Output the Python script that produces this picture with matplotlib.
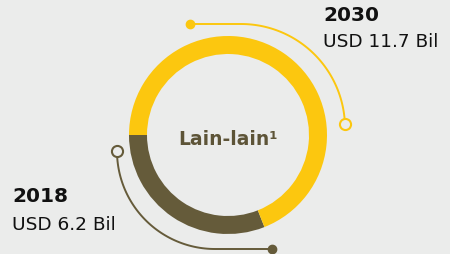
import numpy as np
import matplotlib
matplotlib.use("Agg")
import matplotlib.pyplot as plt

# data
years = ["2018", "2030"]
values_bil = [6.2, 11.7]
ring_share = [31, 69]          # share of the ring as drawn (2018 dark, 2030 yellow)
ring_colors = ["#655b3a", "#fcc70f"]
center_label = "Lain-lain¹"

BG = "#ebeceb"
cx, cy, R = 228, 119, 99

fig = plt.figure(figsize=(4.5, 2.55), dpi=100, facecolor=BG)
ax = fig.add_axes([0, 0, 1, 1])
ax.set_facecolor(BG)

ax.pie(ring_share, colors=ring_colors, startangle=180, counterclock=True,
       center=(cx, cy), radius=R, wedgeprops=dict(width=18, linewidth=0))

ax.text(cx, 110, center_label, ha="center", va="baseline",
        fontsize=13.5, fontweight="bold", color="#5d5437")


def callout(pts, color, open_pt, dot_pt):
    pts = np.array(pts)
    ax.plot(pts[:, 0], pts[:, 1], color=color, lw=1.4, solid_capstyle="round", zorder=2)
    ax.plot(*open_pt, "o", ms=8, mfc=BG, mec=color, mew=1.5, zorder=3)
    ax.plot(*dot_pt, "o", ms=6, color=color, zorder=3)


# 2030 callout (top right)
t = np.linspace(np.pi / 2, 0, 60)
arc = [(190, 230)] + list(zip(241 + 104 * np.cos(t), 126 + 104 * np.sin(t))) + [(345, 126)]
callout(arc, ring_colors[1], (345, 130), (190, 230))

# 2018 callout (bottom left)
t = np.linspace(np.pi, 1.5 * np.pi, 60)
arc = [(117, 103)] + list(zip(215 + 98 * np.cos(t), 103 + 98 * np.sin(t))) + [(272, 5)]
callout(arc, ring_colors[0], (117, 103), (272, 5))

# labels
label_pos = {"2030": (323, 234, 208), "2018": (12, 53, 25)}
for yr, v in zip(years, values_bil):
    x, y1, y2 = label_pos[yr]
    ax.text(x, y1, yr, ha="left", va="baseline", fontsize=14.5,
            fontweight="bold", color="#111111")
    ax.text(x, y2, f"USD {v} Bil", ha="left", va="baseline", fontsize=13.3,
            color="#111111")

ax.set_xlim(0, 450)
ax.set_ylim(0, 255)
ax.set_aspect("auto")
ax.axis("off")

fig.savefig("out.png", dpi=100, facecolor=BG)
